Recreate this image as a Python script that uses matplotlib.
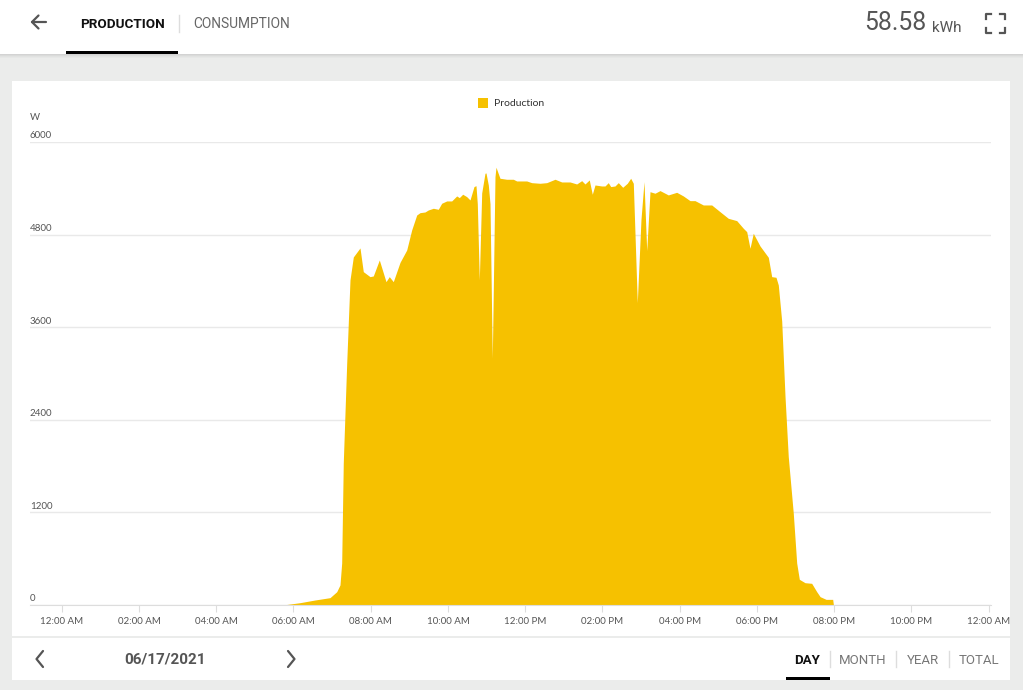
import matplotlib.pyplot as plt
from matplotlib.patches import Rectangle
import matplotlib.transforms as mtransforms

# time of day in hours and power in W
hours = [5.73, 6.17, 6.56, 6.946, 7.12, 7.205, 7.249, 7.29, 7.379, 7.464,
         7.55, 7.723, 7.808, 7.982, 8.067, 8.223, 8.396, 8.481, 8.585, 8.759,
         8.932, 9.061, 9.191, 9.276, 9.406, 9.491, 9.621, 9.75, 9.838, 9.968,
         10.097, 10.227, 10.294, 10.382, 10.485, 10.571, 10.674, 10.726, 10.76, 10.812,
         10.874, 10.959, 10.985, 11.045, 11.089, 11.148, 11.218, 11.244, 11.347, 11.521,
         11.692, 11.78, 12.039, 12.168, 12.383, 12.557, 12.772, 12.945, 13.16, 13.333,
         13.463, 13.548, 13.659, 13.737, 13.807, 13.981, 14.066, 14.151, 14.214, 14.325,
         14.41, 14.524, 14.643, 14.731, 14.799, 14.902, 14.998, 15.076, 15.146, 15.231,
         15.361, 15.49, 15.705, 15.922, 16.093, 16.267, 16.396, 16.611, 16.828, 17.043,
         17.258, 17.476, 17.647, 17.735, 17.82, 17.905, 18.079, 18.294, 18.382, 18.493,
         18.553, 18.641, 18.727, 18.811, 18.941, 19.029, 19.097, 19.244, 19.417, 19.547,
         19.635, 19.79, 19.961, 19.98]
watts = [0, 30, 65, 95, 172, 260, 544, 1840, 3136, 4212,
         4510, 4627, 4320, 4255, 4264, 4471, 4190, 4255, 4190, 4440,
         4600, 4860, 5054, 5084, 5093, 5119, 5141, 5128, 5206, 5236,
         5236, 5301, 5279, 5323, 5292, 5249, 5422, 5434, 5200, 4212,
         5340, 5595, 5599, 5443, 5200, 3197, 5551, 5673, 5530, 5517,
         5517, 5495, 5495, 5473, 5465, 5473, 5517, 5482, 5482, 5456,
         5499, 5456, 5508, 5323, 5443, 5430, 5430, 5473, 5422, 5430,
         5473, 5413, 5465, 5530, 5465, 3918, 5000, 5486, 4592, 5356,
         5336, 5370, 5314, 5348, 5301, 5240, 5240, 5184, 5184, 5097,
         5011, 4981, 4882, 4838, 4623, 4817, 4653, 4506, 4255, 4247,
         4147, 3680, 2700, 1922, 1188, 544, 333, 289, 281, 173,
         108, 73, 73, 0]

y_ticks = [0, 1200, 2400, 3600, 4800, 6000]
x_ticks = [0, 2, 4, 6, 8, 10, 12, 14, 16, 18, 20, 22, 24]
x_labels = ['12:00 AM', '02:00 AM', '04:00 AM', '06:00 AM', '08:00 AM', '10:00 AM',
            '12:00 PM', '02:00 PM', '04:00 PM', '06:00 PM', '08:00 PM', '10:00 PM',
            '12:00 AM']
periods = ['DAY', 'MONTH', 'YEAR', 'TOTAL']

total_kwh = '58.58'
day = '06/17/2021'

yellow = '#F6C100'
W, H = 1023, 690

fig = plt.figure(figsize=(W / 100, H / 100), dpi=100)
fig.patch.set_facecolor('#EBECEB')

# background axes in pixel coords for the app chrome
bg = fig.add_axes([0, 0, 1, 1])
bg.set_xlim(0, W)
bg.set_ylim(H, 0)
bg.axis('off')

# top bar with a soft shadow
for i, a in enumerate([0.10, 0.07, 0.04, 0.02]):
    bg.add_patch(Rectangle((0, 54 + i), W, 1, color='black', alpha=a, lw=0))
bg.add_patch(Rectangle((0, 0), W, 54, color='white', lw=0))
bg.add_patch(Rectangle((66, 51), 112, 3, color='black', lw=0))

# back arrow
bg.plot([32, 46], [22, 22], color='#555555', lw=1.6, solid_capstyle='round')
bg.plot([38.5, 32, 38.5], [15.5, 22, 28.5], color='#555555', lw=1.6,
        solid_capstyle='round', solid_joinstyle='round')

bg.text(80, 24.5, 'PRODUCTION', fontsize=9.7, fontweight='bold', family='Roboto',
        color='#111111', va='center', ha='left')
bg.plot([179, 179], [15, 32], color='#dddddd', lw=1)
bg.text(193, 24.5, 'CONSUMPTION', fontsize=9.9, family='Roboto',
        color='#666666', va='center', ha='left')

bg.text(926, 23.5, total_kwh, fontsize=17.8, family='Roboto', color='#555555',
        va='center', ha='right')
bg.text(932, 27.5, 'kWh', fontsize=11, family='Roboto', color='#555555',
        va='center', ha='left')

# fullscreen icon
c = '#555555'
for (x0, y0, dx, dy) in [(986, 14, 1, 1), (1005, 14, -1, 1), (986, 33, 1, -1), (1005, 33, -1, -1)]:
    bg.plot([x0 + 5 * dx, x0, x0], [y0, y0, y0 + 5 * dy], color=c, lw=1.6)

# chart card and bottom bar
bg.add_patch(Rectangle((12, 81), 998, 555, color='white', lw=0))
bg.add_patch(Rectangle((12, 638), 998, 42, color='white', lw=0))

# legend
bg.add_patch(Rectangle((478, 98), 10, 10, color=yellow, lw=0))
bg.text(494, 104, 'Production', fontsize=7.5, family='Lato', color='#333333',
        va='center', ha='left')
bg.text(30, 117, 'W', fontsize=7, family='Lato', color='#555555', va='center', ha='left')

# bottom bar content
bg.plot([43, 36.5, 43], [651, 659, 667], color='#555555', lw=1.6,
        solid_capstyle='round', solid_joinstyle='round')
bg.plot([288, 294.5, 288], [651, 659, 667], color='#555555', lw=1.6,
        solid_capstyle='round', solid_joinstyle='round')
bg.text(165, 659.5, day, fontsize=11, fontweight='bold', family='Roboto',
        color='#555555', va='center', ha='center')

px = [807.5, 863, 922.5, 978.5]
for i, (p, xc) in enumerate(zip(periods, px)):
    bg.text(xc, 660, p, fontsize=9.5, family='Roboto',
            fontweight='bold' if i == 0 else 'normal',
            color='#111111' if i == 0 else '#777777', va='center', ha='center')
for xs in [830, 896, 949]:
    bg.plot([xs, xs], [651, 667], color='#dddddd', lw=1)
bg.add_patch(Rectangle((786, 677), 44, 3, color='black', lw=0))

# chart axes
x_left = (30 - 61.7) / 38.625
x_right = (991 - 61.7) / 38.625
ax = fig.add_axes([30 / W, (H - 605) / H, (991 - 30) / W, (605 - 142) / H])
ax.patch.set_alpha(0)
ax.set_xlim(x_left, x_right)
ax.set_ylim(0, 6000)

ax.fill_between(hours, watts, 0, color=yellow, lw=0, zorder=2)

for v in y_ticks:
    ax.axhline(v, color='#e9e9e9', lw=1, zorder=1)
ax.set_yticks([])
trans = mtransforms.offset_copy(ax.get_yaxis_transform(), fig=fig, y=1.2, units='points')
for v in y_ticks:
    ax.text(0, v, str(v), transform=trans, fontsize=7, family='Lato',
            color='#555555', ha='left', va='bottom')

ax.set_xticks(x_ticks)
ax.set_xticklabels(x_labels, fontsize=7, family='Lato', color='#555555')
ax.tick_params(axis='x', length=5, color='#dddddd', pad=3.5)
for s in ['top', 'right', 'left']:
    ax.spines[s].set_visible(False)
ax.spines['bottom'].set_color('#dddddd')

fig.savefig('out.png', dpi=100, facecolor=fig.get_facecolor())
